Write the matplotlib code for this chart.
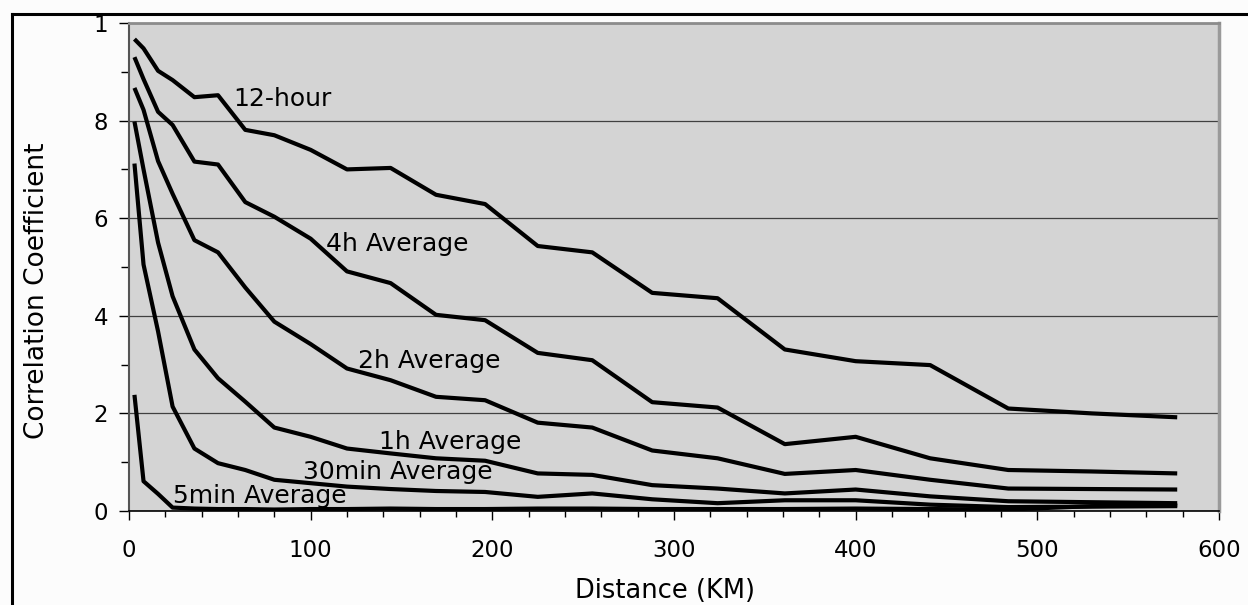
import matplotlib
matplotlib.use("Agg")
import matplotlib.pyplot as plt
from matplotlib.lines import Line2D
from matplotlib.ticker import MultipleLocator, FixedLocator, FixedFormatter

# distance bins (km) and correlation per averaging window
dist = [3, 8, 16, 24, 36, 49, 64, 80, 100, 120, 144, 169, 196, 225, 255, 288, 324, 361, 400, 441, 484, 530, 577]

h12 = [0.967, 0.948, 0.902, 0.883, 0.848, 0.852, 0.781, 0.770, 0.740, 0.700, 0.703, 0.648,
       0.629, 0.543, 0.530, 0.447, 0.436, 0.331, 0.307, 0.299, 0.210, 0.200, 0.192]
h4 = [0.930, 0.885, 0.818, 0.791, 0.716, 0.710, 0.633, 0.603, 0.558, 0.491, 0.467, 0.402,
      0.391, 0.324, 0.309, 0.223, 0.212, 0.137, 0.152, 0.108, 0.084, 0.081, 0.077]
h2 = [0.867, 0.822, 0.717, 0.650, 0.555, 0.530, 0.458, 0.388, 0.342, 0.292, 0.268, 0.234,
      0.227, 0.181, 0.171, 0.124, 0.108, 0.076, 0.084, 0.064, 0.046, 0.045, 0.044]
h1 = [0.798, 0.700, 0.550, 0.440, 0.331, 0.272, 0.224, 0.171, 0.152, 0.128, 0.118, 0.108,
      0.103, 0.077, 0.074, 0.053, 0.046, 0.036, 0.044, 0.030, 0.020, 0.018, 0.016]
m30 = [0.712, 0.505, 0.368, 0.214, 0.128, 0.098, 0.084, 0.064, 0.057, 0.050, 0.045, 0.041,
       0.039, 0.029, 0.036, 0.024, 0.016, 0.022, 0.022, 0.013, 0.008, 0.009, 0.010]
m5 = [0.238, 0.061, 0.035, 0.007, 0.005, 0.004, 0.004, 0.003, 0.004, 0.004, 0.005, 0.004,
      0.004, 0.005, 0.005, 0.004, 0.004, 0.004, 0.005, 0.004, 0.003, 0.010, 0.012]

series = [h12, h4, h2, h1, m30, m5]
labels = ["12-hour", "4h Average", "2h Average", "1h Average", "30min Average", "5min Average"]
label_pos = [(57.4, 0.830), (108.5, 0.533), (126.2, 0.294), (137.8, 0.128), (95.9, 0.065), (24.0, 0.016)]

yticks = [0, 0.2, 0.4, 0.6, 0.8, 1.0]
yticklabels = ["0", "2", "4", "6", "8", "1"]

W, H = 1248, 605
fig = plt.figure(figsize=(W / 100, H / 100), dpi=100)
fig.patch.set_facecolor("#fcfcfc")
ax = fig.add_axes([129 / W, 1 - 511 / H, (1219 - 129) / W, (511 - 23) / H])
ax.set_facecolor("#d4d4d4")

for ys in series:
    ax.plot(dist, ys, color="black", lw=3, solid_capstyle="butt", zorder=3)

for s, (x, y) in zip(labels, label_pos):
    ax.text(x, y, s, fontsize=18, ha="left", va="baseline", zorder=4)

ax.set_xlim(0, 600)
ax.set_ylim(0, 1)
ax.xaxis.set_major_locator(MultipleLocator(100))
ax.xaxis.set_minor_locator(MultipleLocator(20))
ax.yaxis.set_major_locator(FixedLocator(yticks))
ax.yaxis.set_major_formatter(FixedFormatter(yticklabels))
ax.yaxis.set_minor_locator(MultipleLocator(0.1))

ax.tick_params(axis="x", which="major", direction="out", length=6.5, width=1, labelsize=16.5, pad=14)
ax.tick_params(axis="x", which="minor", direction="out", length=4.3, width=1)
ax.tick_params(axis="y", which="major", direction="out", length=7.2, width=1, labelsize=16.5, pad=8)
ax.tick_params(axis="y", which="minor", direction="out", length=5.8, width=1)

ax.set_axisbelow(True)
ax.yaxis.grid(True, which="major", color="#404040", lw=0.9)

ax.spines["top"].set_color("#8c8c8c")
ax.spines["top"].set_linewidth(2)
ax.spines["right"].set_color("#9a9a9a")
ax.spines["right"].set_linewidth(2.5)
ax.spines["left"].set_color("#555555")
ax.spines["left"].set_linewidth(1.5)
ax.spines["bottom"].set_color("black")
ax.spines["bottom"].set_linewidth(1.2)

ax.set_xlabel("Distance (KM)", fontsize=18.5)
ax.xaxis.set_label_coords(0.492, -0.164)
ax.xaxis.label.set_va("center")
ax.set_ylabel("Correlation Coefficient", fontsize=19)
ax.yaxis.set_label_coords(-0.0844, 0.452)
ax.yaxis.label.set_va("center")
ax.yaxis.label.set_ha("center")

# outer frame (runs off the right and bottom edges)
fx = 12 / W
fy = 1 - 14 / H
fig.add_artist(Line2D([fx, fx], [0, fy], transform=fig.transFigure, color="black", lw=2.2))
fig.add_artist(Line2D([fx, 1], [fy, fy], transform=fig.transFigure, color="black", lw=2.2))

fig.savefig("out.png", dpi=100, facecolor=fig.get_facecolor())
